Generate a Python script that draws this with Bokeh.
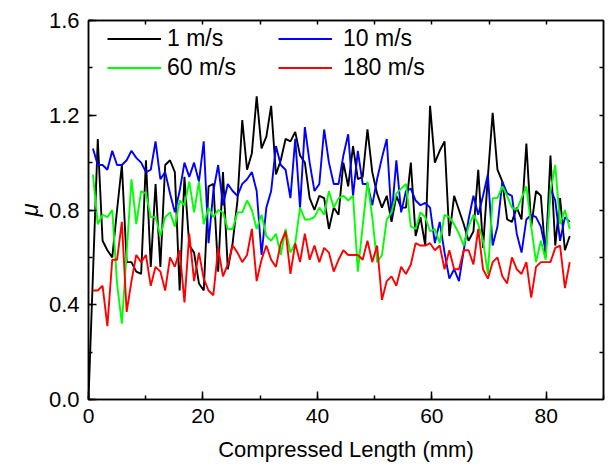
from bokeh.plotting import figure
from bokeh.models import (Range1d, LinearAxis, SingleIntervalTicker, FixedTicker,
                          PrintfTickFormatter, Legend, LegendItem)
from bokeh.embed import file_html
from bokeh.resources import INLINE

# ---- data ----
x_mm = [0.78, 1.62, 2.46, 3.30, 4.15, 4.99, 5.83, 6.67, 7.51, 8.35,
        9.20, 10.04, 10.88, 11.72, 12.56, 13.40, 14.25, 15.09, 15.93, 16.77,
        17.61, 18.45, 19.30, 20.14, 20.98, 21.82, 22.66, 23.50, 24.34, 25.19,
        26.03, 26.87, 27.71, 28.55, 29.39, 30.24, 31.08, 31.92, 32.76, 33.60,
        34.44, 35.29, 36.13, 36.97, 37.81, 38.65, 39.49, 40.34, 41.18, 42.02,
        42.86, 43.70, 44.54, 45.38, 46.23, 47.07, 47.91, 48.75, 49.59, 50.43,
        51.28, 52.12, 52.96, 53.80, 54.64, 55.48, 56.33, 57.17, 58.01, 58.85,
        59.69, 60.53, 61.38, 62.22, 63.06, 63.90, 64.74, 65.58, 66.42, 67.27,
        68.11, 68.95, 69.79, 70.63, 71.47, 72.32, 73.16, 74.00, 74.84, 75.68,
        76.52, 77.37, 78.21, 79.05, 79.89, 80.73, 81.57, 82.41, 83.26, 84.10]

black_x = [0.0] + x_mm[1:]
mu_1 = [0.00,
        1.10, 0.67, 0.63, 0.60, 0.80, 0.99, 0.58, 0.58, 0.54, 0.53, 1.01, 0.56, 0.91, 0.56, 0.99, 1.01,
        0.96, 0.46, 0.94, 0.65, 0.62, 0.49, 0.46, 0.90, 0.91, 0.54, 0.96, 0.55, 0.66, 0.84, 1.18, 0.97, 1.04, 1.28,
        1.06, 1.11, 1.24, 0.95, 1.01, 1.10, 1.09, 1.13, 1.03, 1.00, 0.85, 0.80, 0.86, 0.85, 0.72, 0.81, 0.78, 1.00,
        0.90, 1.07, 0.93, 0.94, 1.14, 0.96, 0.87, 0.81, 0.86, 0.75, 0.86, 0.81, 0.81, 1.00, 0.69, 0.77, 0.65, 1.24,
        1.00, 1.05, 1.09, 0.69, 0.86, 0.80, 0.74, 0.67, 0.71, 0.97, 0.64, 0.94, 1.21, 0.97, 0.92, 0.76, 0.75, 0.81,
        0.76, 1.08, 0.73, 0.88, 0.86, 0.60, 1.03, 0.65, 0.85, 0.63, 0.69]

mu_10 = [1.06, 0.99, 0.99, 0.97, 1.05, 0.99, 0.99, 1.01, 1.05, 1.02, 1.00, 0.96, 0.97, 1.09, 0.93, 0.96,
         0.87, 0.79, 0.88, 1.00, 0.94, 1.00, 0.92, 1.09, 0.66, 0.88, 0.99, 0.82, 0.91, 0.88, 0.86, 0.91, 0.93,
         0.96, 0.88, 0.61, 0.81, 0.88, 1.07, 0.99, 0.97, 0.85, 1.10, 0.81, 1.15, 1.00, 0.88, 0.91, 1.14,
         1.00,
         0.91, 0.91, 1.03, 1.12, 0.86, 1.05, 0.91, 0.91, 0.82, 0.93, 1.02, 1.10, 0.77, 1.01, 0.79, 0.88, 0.89,
         0.84, 0.82, 0.83, 0.81, 0.66, 0.75, 0.62, 0.51, 0.55, 0.50, 0.63, 0.76, 0.86, 0.78, 0.86, 0.95,
         0.65, 0.73, 0.92, 0.87, 0.86, 0.70, 0.62, 0.76, 0.78, 0.77, 0.73, 0.63, 0.89, 0.84, 0.67, 0.77, 0.75]

mu_60 = [0.95, 0.74, 0.78, 0.77, 0.80, 0.49, 0.32, 0.62, 0.93, 0.74, 0.88, 0.87, 0.77, 0.77, 0.69, 0.77,
         0.79, 0.73, 0.84, 0.82, 0.92, 0.79, 0.92, 0.74, 0.81, 0.77, 0.80, 0.79, 0.72, 0.72, 0.79, 0.79, 0.84,
         0.80, 0.72, 0.78, 0.69, 0.67, 0.70, 0.61, 0.72, 0.62, 0.66, 0.81, 0.76, 0.76, 0.77, 0.81, 0.78, 0.88,
         0.81, 0.85, 0.86, 0.84, 0.86, 0.54, 0.73, 0.92, 0.77, 0.58, 0.61, 0.76, 0.79, 0.87, 0.89, 0.91, 0.73,
         0.72, 0.79, 0.77, 0.71,
         0.72, 0.66, 0.78, 0.77, 0.74, 0.70, 0.65, 0.73, 0.78, 0.74, 0.67, 0.53, 0.85, 0.85, 0.90, 0.86, 0.81,
         0.80, 0.85, 0.90, 0.73, 0.58, 0.67, 0.59, 0.88, 0.99, 0.74, 0.80, 0.72]

mu_180 = [0.46, 0.46, 0.48, 0.31, 0.59, 0.59, 0.75, 0.37, 0.50, 0.61, 0.58, 0.61, 0.48, 0.56, 0.54, 0.46,
          0.60, 0.56, 0.63, 0.41, 0.70, 0.50, 0.62, 0.51, 0.46, 0.44, 0.64, 0.52, 0.57, 0.65, 0.62, 0.58, 0.61,
          0.72,
          0.50, 0.59, 0.65, 0.59, 0.56, 0.66, 0.71, 0.53, 0.66, 0.58, 0.70, 0.59, 0.65, 0.58, 0.64, 0.62, 0.54,
          0.59, 0.63, 0.61, 0.61, 0.61, 0.59, 0.67, 0.58, 0.65, 0.42, 0.50, 0.52, 0.48, 0.56, 0.53, 0.57, 0.66,
          0.65, 0.65, 0.66,
          0.63, 0.65, 0.55, 0.63, 0.55, 0.55, 0.63, 0.63, 0.57, 0.72, 0.55, 0.51, 0.58, 0.60, 0.52, 0.49, 0.60,
          0.55, 0.53, 0.58, 0.43, 0.56, 0.58, 0.58, 0.58, 0.64, 0.65, 0.47, 0.58]

labels = ["1 m/s", "10 m/s", "60 m/s", "180 m/s"]
colors = ["#000000", "#0000ff", "#00ff00", "#ff0000"]
x_title = "Compressed Length (mm)"
y_title = "μ"

# mirrored (unlabelled) tick positions for the top and right frame edges
top_ticks = [10, 20, 30, 40, 50, 60, 70, 80]
right_ticks = [0.2, 0.4, 0.6, 0.8, 1.0, 1.2, 1.4]

FONT = "Liberation Sans"

p = figure(width=608, height=464, output_backend="svg", toolbar_location=None,
           x_range=Range1d(0, 90), y_range=Range1d(0, 1.6),
           x_axis_type=None, y_axis_type=None,
           min_border_left=88, min_border_right=5, min_border_top=20, min_border_bottom=64)
p.outline_line_color = "black"
p.outline_line_width = 1.5
p.background_fill_color = "white"
p.border_fill_color = "white"


def style_axis(ax, major_in, minor_in):
    ax.axis_line_color = "black"
    ax.axis_line_width = 1.5
    ax.major_tick_line_width = 1.5
    ax.minor_tick_line_width = 1.5
    ax.major_tick_in = major_in
    ax.major_tick_out = 0
    ax.minor_tick_in = minor_in
    ax.minor_tick_out = 0
    ax.major_label_text_font = FONT
    ax.major_label_text_color = "black"
    return ax


xb = style_axis(LinearAxis(ticker=SingleIntervalTicker(interval=20, num_minor_ticks=2)), 8, 4)
xb.major_label_text_font_size = "21px"
xb.major_label_standoff = 9
xb.axis_label = x_title
xb.axis_label_text_font = FONT
xb.axis_label_text_font_size = "22px"
xb.axis_label_text_font_style = "normal"
xb.axis_label_text_color = "black"
xb.axis_label_standoff = 11
p.add_layout(xb, "below")

yl = style_axis(LinearAxis(ticker=SingleIntervalTicker(interval=0.4, num_minor_ticks=2),
                           formatter=PrintfTickFormatter(format="%.1f")), 8, 4)
yl.major_label_text_font_size = "22px"
yl.major_label_standoff = 9
yl.axis_label = y_title
yl.axis_label_text_font = FONT
yl.axis_label_text_font_size = "24px"
yl.axis_label_text_font_style = "italic"
yl.axis_label_text_color = "black"
yl.axis_label_standoff = 3
p.add_layout(yl, "left")

xt = style_axis(LinearAxis(ticker=FixedTicker(ticks=[], minor_ticks=top_ticks)), 4, 4)
xt.major_label_standoff = 0
p.add_layout(xt, "above")
yr = style_axis(LinearAxis(ticker=FixedTicker(ticks=[], minor_ticks=right_ticks)), 4, 4)
yr.major_label_standoff = 0
p.add_layout(yr, "right")

renderers = []
for xs, ys, c in [(black_x, mu_1, colors[0]), (x_mm, mu_10, colors[1]),
                  (x_mm, mu_60, colors[2]), (x_mm, mu_180, colors[3])]:
    renderers.append(p.line(xs, ys, line_color=c, line_width=1.9))


def make_legend(items, loc, standoff):
    lg = Legend(items=items, location=loc)
    lg.glyph_width = 54
    lg.glyph_height = 27
    lg.label_height = 27
    lg.label_standoff = standoff
    lg.spacing = 2
    lg.padding = 0
    lg.margin = 0
    lg.border_line_color = None
    lg.background_fill_alpha = 0
    lg.label_text_font = FONT
    lg.label_text_font_size = "23px"
    lg.label_text_color = "black"
    return lg


leg1 = make_legend([LegendItem(label=labels[0], renderers=[renderers[0]]),
                    LegendItem(label=labels[2], renderers=[renderers[2]])], (19, 318), 6)
leg2 = make_legend([LegendItem(label=labels[1], renderers=[renderers[1]]),
                    LegendItem(label=labels[3], renderers=[renderers[3]])], (190, 318), 11)
p.add_layout(leg1)
p.add_layout(leg2)

open("out.html", "w").write(file_html(p, INLINE))
